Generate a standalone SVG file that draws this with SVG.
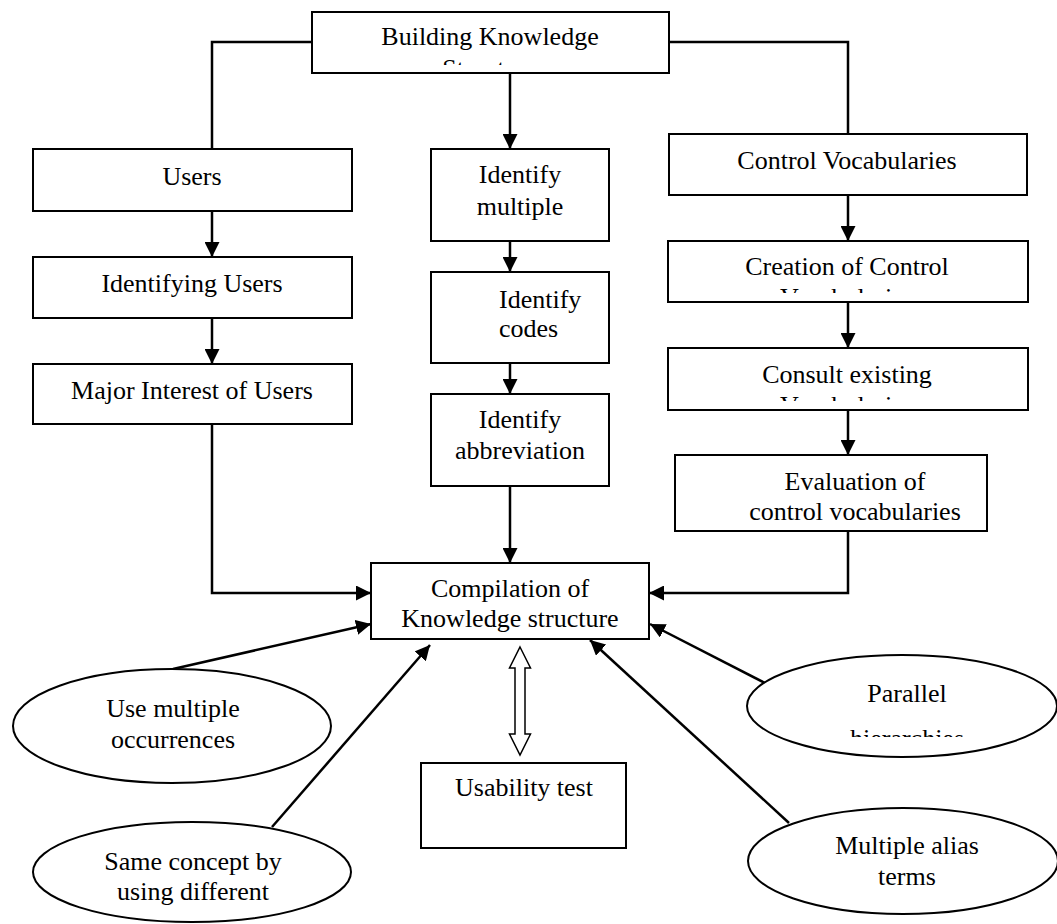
<svg xmlns="http://www.w3.org/2000/svg" width="1057" height="924" viewBox="0 0 1057 924">
<style>
.box{fill:#fff;stroke:#000;stroke-width:2}
.ell{fill:#fff;stroke:#000;stroke-width:2}
.t{font-family:"Liberation Serif","Times New Roman",serif;font-size:26px;fill:#000;text-anchor:middle}
.tl{font-family:"Liberation Serif","Times New Roman",serif;font-size:26px;fill:#000}
.c{fill:none;stroke:#000;stroke-width:2.5}
</style>
<defs>
<marker id="ah" markerUnits="userSpaceOnUse" markerWidth="15" markerHeight="15" refX="15" refY="7.5" orient="auto">
<path d="M0,0 L15,7.5 L0,15 z" fill="#000"/>
</marker>
<clipPath id="cTop"><rect x="312" y="12" width="357" height="53"/></clipPath>
<clipPath id="cCre"><rect x="668" y="241" width="360" height="52"/></clipPath>
<clipPath id="cCon"><rect x="668" y="348" width="360" height="53"/></clipPath>
<clipPath id="cPar"><rect x="747" y="655" width="310" height="82"/></clipPath>
</defs>
<g id="connectors">
<polyline class="c" points="312,42 212,42 212,149"/>
<polyline class="c" points="669,42 848,42 848,134"/>
<line class="c" x1="510" y1="73" x2="510" y2="149" marker-end="url(#ah)"/>
<line class="c" x1="212" y1="211" x2="212" y2="257" marker-end="url(#ah)"/>
<line class="c" x1="212" y1="318" x2="212" y2="364" marker-end="url(#ah)"/>
<line class="c" x1="510" y1="241" x2="510" y2="272" marker-end="url(#ah)"/>
<line class="c" x1="510" y1="363" x2="510" y2="394" marker-end="url(#ah)"/>
<line class="c" x1="510" y1="486" x2="510" y2="563" marker-end="url(#ah)"/>
<line class="c" x1="848" y1="195" x2="848" y2="241" marker-end="url(#ah)"/>
<line class="c" x1="848" y1="302" x2="848" y2="348" marker-end="url(#ah)"/>
<line class="c" x1="848" y1="410" x2="848" y2="455" marker-end="url(#ah)"/>
<polyline class="c" points="212,424 212,593 371,593" marker-end="url(#ah)"/>
<polyline class="c" points="848,531 848,593 649,593" marker-end="url(#ah)"/>
<line class="c" x1="173" y1="669" x2="371" y2="624" marker-end="url(#ah)"/>
<line class="c" x1="272" y1="827" x2="430" y2="645" marker-end="url(#ah)"/>
<line class="c" x1="765" y1="683" x2="650" y2="624" marker-end="url(#ah)"/>
<line class="c" x1="789" y1="823" x2="590" y2="640" marker-end="url(#ah)"/>
<polygon points="520,647 530.5,668 525,668 525,734 530.5,734 520,755 509.5,734 515,734 515,668 509.5,668" fill="#fff" stroke="#000" stroke-width="1.5"/>
</g>
<g id="building">
<rect class="box" x="312" y="12" width="357" height="61"/>
<text class="t" x="490" y="45">Building Knowledge</text>
<text class="t" x="490" y="77" clip-path="url(#cTop)">Structure</text>
</g>
<g id="users">
<rect class="box" x="33" y="149" width="319" height="62"/>
<text class="t" x="192" y="185">Users</text>
</g>
<g id="identifying-users">
<rect class="box" x="33" y="257" width="319" height="61"/>
<text class="t" x="192" y="292">Identifying Users</text>
</g>
<g id="major-interest">
<rect class="box" x="33" y="364" width="319" height="60"/>
<text class="t" x="192" y="399">Major Interest of Users</text>
</g>
<g id="identify-multiple">
<rect class="box" x="431" y="149" width="178" height="92"/>
<text class="t" x="520" y="183">Identify</text>
<text class="t" x="520" y="215">multiple</text>
</g>
<g id="identify-codes">
<rect class="box" x="431" y="272" width="178" height="91"/>
<text class="tl" x="499" y="308">Identify</text>
<text class="tl" x="499" y="337">codes</text>
</g>
<g id="identify-abbreviation">
<rect class="box" x="431" y="394" width="178" height="92"/>
<text class="t" x="520" y="428">Identify</text>
<text class="t" x="520" y="459">abbreviation</text>
</g>
<g id="control-vocabularies">
<rect class="box" x="669" y="134" width="358" height="61"/>
<text class="t" x="847" y="169">Control Vocabularies</text>
</g>
<g id="creation">
<rect class="box" x="668" y="241" width="360" height="61"/>
<text class="t" x="847" y="275">Creation of Control</text>
<text class="t" x="847" y="306" clip-path="url(#cCre)">Vocabularies</text>
</g>
<g id="consult">
<rect class="box" x="668" y="348" width="360" height="62"/>
<text class="t" x="847" y="383">Consult existing</text>
<text class="t" x="847" y="414" clip-path="url(#cCon)">Vocabularies</text>
</g>
<g id="evaluation">
<rect class="box" x="675" y="455" width="312" height="76"/>
<text class="t" x="855" y="490">Evaluation of</text>
<text class="t" x="855" y="520">control vocabularies</text>
</g>
<g id="compilation">
<rect class="box" x="371" y="563" width="278" height="76"/>
<text class="t" x="510" y="597">Compilation of</text>
<text class="t" x="510" y="627">Knowledge structure</text>
</g>
<g id="usability">
<rect class="box" x="421" y="763" width="205" height="85"/>
<text class="t" x="524" y="796">Usability test</text>
</g>
<g id="use-multiple">
<ellipse class="ell" cx="172" cy="726" rx="159" ry="57"/>
<text class="t" x="173" y="717">Use multiple</text>
<text class="t" x="173" y="748">occurrences</text>
</g>
<g id="same-concept">
<ellipse class="ell" cx="192" cy="872" rx="159" ry="50"/>
<text class="t" x="193" y="870">Same concept by</text>
<text class="t" x="193" y="900">using different</text>
</g>
<g id="parallel">
<ellipse class="ell" cx="902" cy="706" rx="155" ry="51"/>
<text class="t" x="907" y="702">Parallel</text>
<text class="t" x="907" y="747" clip-path="url(#cPar)">hierarchies</text>
</g>
<g id="multiple-alias">
<ellipse class="ell" cx="903" cy="861" rx="155" ry="53"/>
<text class="t" x="907" y="854">Multiple alias</text>
<text class="t" x="907" y="885">terms</text>
</g>
</svg>
